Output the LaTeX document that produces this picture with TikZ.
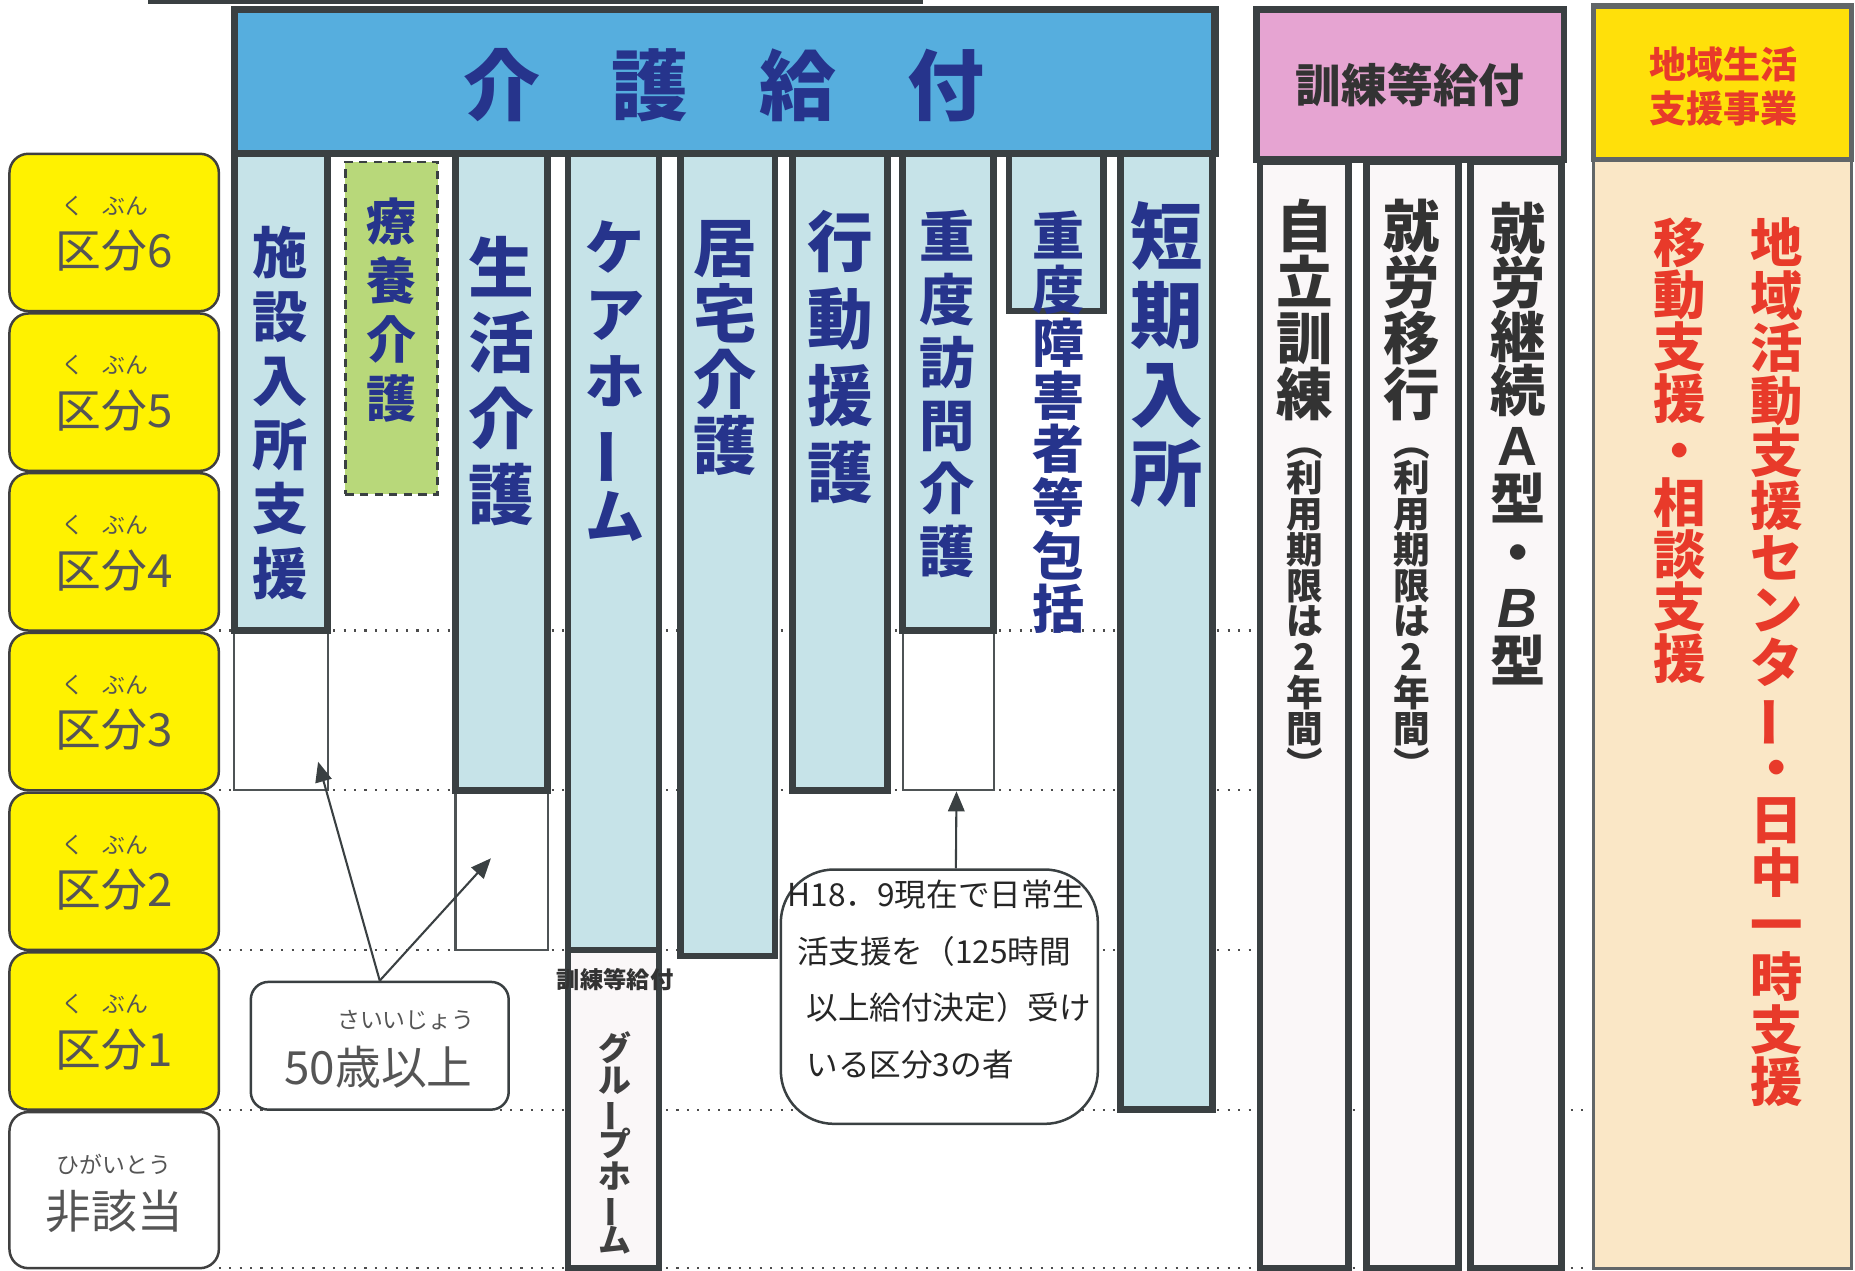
\documentclass[tikz,border=0pt]{standalone}
\usepackage{fontspec}
\setmainfont{Noto Sans CJK JP}
\newfontfamily\latfont{Liberation Sans}
\usetikzlibrary{arrows.meta,calc,fit}

\definecolor{navy}{RGB}{38,52,140}
\definecolor{kaigohdr}{RGB}{86,174,222}
\definecolor{svcfill}{RGB}{198,227,232}
\definecolor{ryoyo}{RGB}{184,216,122}
\definecolor{kunrenhdr}{RGB}{230,164,210}
\definecolor{chiikihdr}{RGB}{255,224,10}
\definecolor{kyellow}{RGB}{255,242,0}
\definecolor{beige}{RGB}{250,231,198}
\definecolor{pale}{RGB}{250,247,248}
\definecolor{edge}{RGB}{58,64,66}
\definecolor{redtxt}{RGB}{232,58,42}
\definecolor{graytxt}{RGB}{85,85,85}

\newcommand\vsz[2]{\bfseries\fontsize{#1}{#2}\selectfont\lineskiplimit=-50pt\lineskip=0pt\relax}
\newcommand\vbar{\rotatebox[origin=c]{90}{ー}}

\tikzset{
  frame/.style={draw=edge, line width=1.6pt, inner sep=0pt},
  svc/.style={frame, fill=svcfill},
  lowbox/.style={draw=edge!90, line width=0.5pt, fill=white, inner sep=0pt},
  kubun/.style={draw=black!75, line width=0.6pt, rounded corners=0.16cm, fill=kyellow, inner sep=0pt},
  kubuntxt/.style={text=graytxt, font=\fontsize{11}{12}\selectfont, inner sep=0pt},
  ruby/.style={text=graytxt, font=\fontsize{5.5}{6}\selectfont, inner sep=0pt},
  vt/.style={text=navy, align=center, inner sep=0pt},
  rowline/.style={dotted, line width=0.5pt, black!70},
  arr/.style={-{Triangle[length=0.17cm,width=0.14cm]}, line width=0.5pt, edge},
}

\begin{document}
\begin{tikzpicture}[x=0.01cm, y=-0.01cm]
\useasboundingbox (0,0) rectangle (1568,1074);
% grade rows
\foreach \y in {533,668,803} \draw[rowline] (185,\y) -- (1062,\y);
\foreach \y in {938,1072} \draw[rowline] (185,\y) -- (1347,\y);
\draw[edge, line width=1.2pt] (125,1) -- (780,1);

\foreach \n [count=\i from 0] in {6,5,4,3,2,1} {
  \node[kubun, fit={(8,{130+135*\i}) (185,{263+135*\i})}] (kb\n) {};
  \node[ruby] (kbr\n) at ($(kb\n.north)+(-8,45)$) {く\hspace{0.8em}ぶん};
  \node[kubuntxt] (kbt\n) at ($(kb\n.north)+(0,83)$) {区分\n};
}
\node[kubun, fill=white, fit={(8,940) (185,1072)}] (hg) {};
\node[ruby] (hgr) at ($(hg.north)+(0,45)$) {ひがいとう};
\node[kubuntxt] (hgt) at ($(hg.north)+(0,85)$) {非該当};

% kaigo kyufu
\node[frame, line width=1.7pt, fill=kaigohdr, fit={(198,8) (1027,130)}] (kaigo) {};
\node[text=navy, inner sep=0pt, font=\bfseries\fontsize{18.5}{20}\selectfont] (kaigoT) at (612,72)
  {介\hspace{0.92em}護\hspace{0.92em}給\hspace{0.92em}付};

\node[lowbox, fit={(198,533) (277,668)}] (shisetsuLow) {};
\node[lowbox, fit={(385,668) (463,803)}] (seikatsuLow) {};
\node[lowbox, fit={(763,533) (840,668)}] (houmonLow) {};
\foreach \nm/\xa/\xb/\yb in {shisetsu/198/277/533, seikatsu/385/463/668, carehome/480/557/803,
    kyotaku/575/655/808, koudou/670/750/668, houmon/763/840/533, houkatsu/853/933/263, tanki/947/1025/938}
  \node[svc, fit={(\xa,130) (\xb,\yb)}] (\nm) {};
\node[draw=edge, dash pattern=on 2pt off 1.5pt, line width=0.6pt, fill=ryoyo, inner sep=0pt,
  fit={(292,137) (370,418)}] (ryoyo) {};
\node[frame, fill=pale, fit={(480,803) (557,1072)}] (grouphome) {};

\node[vt, font=\vsz{13.3}{15.4}] (shisetsuT) at (237,349) {施\\設\\入\\所\\支\\援};
\node[vt, font=\vsz{12}{14.2}] (ryoyoT) at (331,262) {療\\養\\介\\護};
\node[vt, font=\vsz{15.8}{18.2}] (seikatsuT) at (424,322) {生\\活\\介\\護};
\node[vt, font=\vsz{14.2}{16.2}] (carehomeT) at (520,322) {ケ\\ア\\ホ\\\vbar\\ム};
\node[vt, font=\vsz{15.2}{15.9}] (kyotakuT) at (613,294) {居\\宅\\介\\護};
\node[vt, font=\vsz{15.8}{18.5}] (koudouT) at (710,302) {行\\動\\援\\護};
\node[vt, font=\vsz{13.3}{15.1}] (houmonT) at (801,333) {重\\度\\訪\\問\\介\\護};
\node[vt, font=\vsz{12.5}{12.8}] (houkatsuT) at (895,357) {重\\度\\障\\害\\者\\等\\包\\括};
\node[vt, font=\vsz{17.4}{19}] (tankiT) at (986,300) {短\\期\\入\\所};
\node[inner sep=0pt, text=black!80, font=\bfseries\fontsize{5.6}{6}\selectfont] (ghHdr) at (520,828) {訓練等給付};
\node[vt, text=black!75, font=\vsz{7.9}{7.7}] (grouphomeT) at (520,966) {グ\\ル\\\vbar\\プ\\ホ\\\vbar\\ム};

% kunren tou kyufu
\node[frame, fill=kunrenhdr, fit={(1062,8) (1322,135)}] (kunren) {};
\node[inner sep=0pt, text=black!80, font=\bfseries\fontsize{11}{13}\selectfont] (kunrenT) at (1192,72) {訓練等給付};
\foreach \nm/\xa/\xb in {jiritsu/1065/1140, ikou/1155/1233, keizoku/1243/1320}
  \node[frame, fill=pale, fit={(\xa,137) (\xb,1072)}] (\nm) {};
\node[vt, text=black!80, font=\vsz{13.6}{13.4}] (jiritsuT) at (1103,262) {自\\立\\訓\\練};
\node[vt, text=black!80, font=\vsz{8.8}{8.6}] (jiritsuP) at (1103,518) {︵\\利\\用\\期\\限\\は\\2\\年\\間\\︶};
\node[vt, text=black!80, font=\vsz{13.6}{13.4}] (ikouT) at (1193,262) {就\\労\\移\\行};
\node[vt, text=black!80, font=\vsz{8.8}{8.6}] (ikouP) at (1193,518) {︵\\利\\用\\期\\限\\は\\2\\年\\間\\︶};
\node[vt, text=black!80, font=\vsz{13.3}{13}] (keizokuT) at (1283,375)
  {就\\労\\継\\続\\{\latfont A}\\型\\・\\{\latfont\itshape B}\\型};

% chiiki seikatsu shien jigyo
\node[draw=edge!80, line width=0.7pt, fill=beige, inner sep=0pt, fit={(1347,135) (1565,1072)}] (chiikiBody) {};
\node[frame, line width=1.3pt, draw=edge!80, fill=chiikihdr, fit={(1347,5) (1565,135)}] (chiiki) {};
\node[inner sep=0pt, text=redtxt, align=center, font=\bfseries\fontsize{8.9}{10.5}\selectfont] (chiikiT) at (1457,73) {地域生活\\支援事業};
\node[vt, text=redtxt, font=\vsz{12.6}{12.5}] (idouT) at (1420,381) {移\\動\\支\\援\\・\\相\\談\\支\\援};
\node[vt, text=redtxt, font=\vsz{12.6}{12.6}] (centerT) at (1502,560)
  {地\\域\\活\\動\\支\\援\\セ\\ン\\タ\\\vbar\\・\\日\\中\\一\\時\\支\\援};

% notes
\node[draw=edge, line width=0.6pt, rounded corners=0.15cm, fill=white, inner sep=0pt, fit={(212,830) (430,938)}] (over50) {};
\node[ruby] (over50r) at (343,862) {さいいじょう};
\node[kubuntxt] (over50T) at (320,902) {50歳以上};
\node[draw=edge, line width=0.6pt, rounded corners=0.45cm, fill=white, inner sep=0pt, fit={(660,735) (928,950)}] (h18) {};
\node[inner sep=0pt, anchor=west, align=left, text=black!85, font=\fontsize{7.6}{13.6}\selectfont] (h18T) at (665,828)
  {H18．9現在で日常生\\\hspace{0.3em}活支援を（125時間\\\hspace{0.6em}以上給付決定）受け\\\hspace{0.6em}いる区分3の者};

\draw[arr] (over50.north) -- ($(shisetsuLow.south east)+(-9,-25)$);
\draw[arr] (over50.north) -- ($(seikatsuLow.center)+(-9,-10)$);
\draw[arr] ($(h18.north)+(14,0)$) -- ($(houmonLow.south)+(7,0)$);
\end{tikzpicture}
\end{document}
